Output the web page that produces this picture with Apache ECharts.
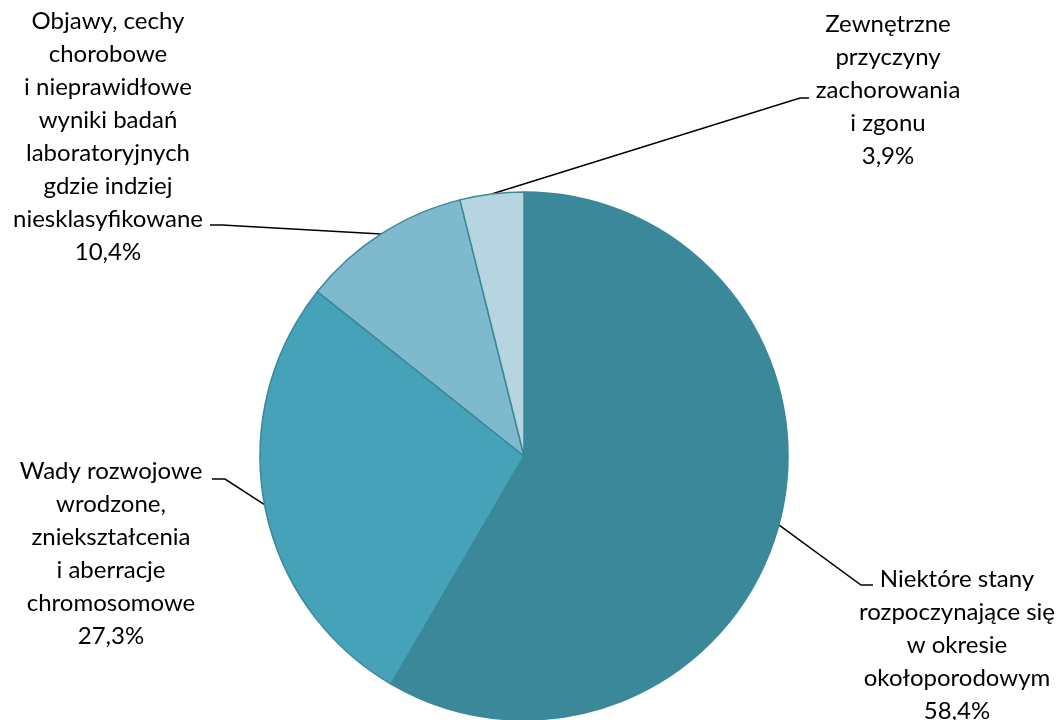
<!DOCTYPE html>
<html>
<head>
<meta charset="utf-8">
<script src="https://cdn.jsdelivr.net/npm/echarts@6/dist/echarts.min.js"></script>
<style>
  html, body { margin: 0; padding: 0; background: #fff; }
  #main { width: 1063px; height: 720px; }
</style>
</head>
<body>
<div id="main"></div>
<script>
// categories and shares (%), clockwise from 12 o'clock
const categories = [
  "Niektóre stany\nrozpoczynające się\nw okresie\nokołoporodowym",
  "Wady rozwojowe\nwrodzone,\nzniekształcenia\ni aberracje\nchromosomowe",
  "Objawy, cechy\nchorobowe\ni nieprawidłowe\nwyniki badań\nlaboratoryjnych\ngdzie indziej\nniesklasyfikowane",
  "Zewnętrzne\nprzyczyny\nzachorowania\ni zgonu"
];
const shares = [58.4, 27.3, 10.4, 3.9];
const colors = ["#3a8899", "#46a2b8", "#7eb9ce", "#b6d5e0"];

// label block placement (centre x, top y) and where its leader line bends / ends
const labelSpots = [
  { x: 957, y: 563, bend: [861, 585], end: [873, 585] },
  { x: 111, y: 455, bend: [225, 479], end: [212, 479] },
  { x: 108, y: 5, bend: [222, 225], end: [210, 225] },
  { x: 888, y: 8, bend: [800, 98], end: [809, 98] }
];

const data = categories.map((name, i) => ({
  name: name,
  value: shares[i],
  itemStyle: { color: colors[i] }
}));

let myChart = echarts.init(document.getElementById("main"));

const options = {
  animation: false,
  series: [
    {
      type: "pie",
      center: [524, 456],
      radius: 264,
      startAngle: 90,
      clockwise: true,
      data: data,
      itemStyle: {
        borderColor: "#3a8899",
        borderWidth: 1.5
      },
      label: {
        show: true,
        fontFamily: "Lato",
        fontSize: 24,
        lineHeight: 33,
        color: "#000",
        align: "center",
        formatter: (p) => p.name + "\n" + p.value.toFixed(1).replace(".", ",") + "%"
      },
      labelLine: {
        show: true,
        length: 20,
        length2: 10,
        lineStyle: { color: "#000", width: 1.5 }
      },
      labelLayout: (params) => {
        const s = labelSpots[params.dataIndex];
        // keep the anchor on the slice that ECharts computed
        const anchor = params.labelLinePoints ? params.labelLinePoints[0] : s.bend;
        return {
          x: s.x,
          y: s.y,
          align: "center",
          verticalAlign: "top",
          labelLinePoints: [anchor, s.bend, s.end]
        };
      }
    }
  ]
};

myChart.setOption(options);
</script>
</body>
</html>
